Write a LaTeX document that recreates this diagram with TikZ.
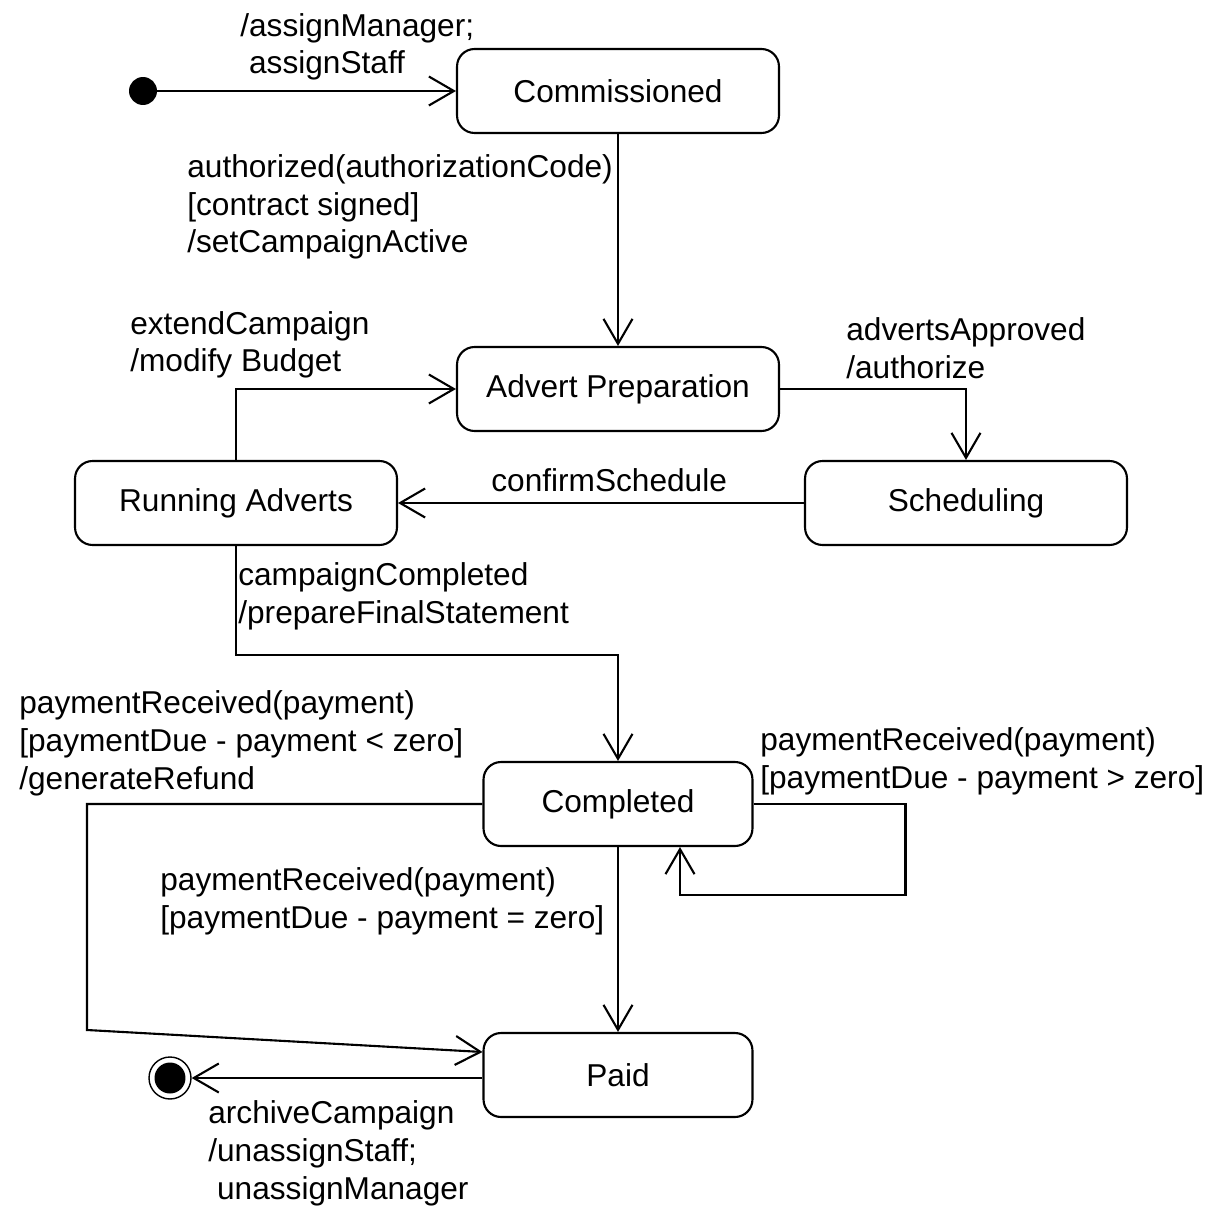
\documentclass[tikz,border=0pt]{standalone}
\usepackage{fontspec}
\setmainfont{Liberation Sans}
\usetikzlibrary{calc,arrows.meta}

\begin{document}
\begin{tikzpicture}[x=0.02cm, y=-0.02cm,
    font=\fontsize{18pt}{21.5pt}\selectfont,
    statebox/.style={draw, very thick, rounded corners=0.35cm, minimum width=6.44cm, minimum height=1.68cm, inner sep=0pt},
    smallbox/.style={statebox, minimum width=5.38cm},
    lbl/.style={anchor=base west, align=left, inner sep=0pt},
    trans/.style={very thick, -{Straight Barb[length=0.5cm, width=0.58cm, line width=1.2pt]}}]
  \useasboundingbox (0,0) rectangle (1211,1206);

  \node [statebox] (comm) at (618,91) {Commissioned};
  \node [statebox] (prep) at (618,389) {Advert Preparation};
  \node [statebox] (run) at (236,503) {Running Adverts};
  \node [statebox] (sched) at (966,503) {Scheduling};
  \node [smallbox] (compl) at (618,804) {Completed};
  \node [smallbox] (paid) at (618,1075) {Paid};

  \node [circle, fill = black, minimum size=0.56cm, inner sep=0pt] (init) at (143,91) {};
  \node [circle, draw, thick, minimum size=0.84cm, inner sep=0pt] (fin) at (170,1078) {};
  \node [circle, fill = black, minimum size=0.62cm, inner sep=0pt] (fincore) at (fin) {};

  \draw [trans] (init) -- (comm.west);
  \draw [trans] (comm.south) -- (prep.north);
  \draw [trans] (prep.east) -| (sched.north);
  \draw [trans] (sched.west) -- (run.east);
  \draw [trans] (run.north) |- (prep.west);
  \draw [trans] (run.south) -- ++(0,109) -| (compl.north);
  \draw [trans] (compl.east) -- ++(152,0) |- ($(compl.south)+(62,48)$) -- ($(compl.south)+(62,0)$);
  \draw [trans] (compl.south) -- (paid.north);
  \draw [trans] (compl.west) -- (87,804) -- (87,1030) -- ($(paid.west)+(0,-23)$);
  \draw [trans] (paid.west |- fin) -- (fin);

  \node [lbl] (l1) at (240,74) {/assignManager;\\\ assignStaff};
  \node [lbl] (l2) at (187,253) {authorized(authorizationCode)\\{}[contract signed]\\/setCampaignActive};
  \node [lbl] (l3) at (130,372) {extendCampaign\\/modify Budget};
  \node [lbl] (l4) at (846,378) {advertsApproved\\/authorize};
  \node [lbl] (l5) at (491,491) {confirmSchedule};
  \node [lbl] (l6) at (238,623) {campaignCompleted\\/prepareFinalStatement};
  \node [lbl] (l7) at (19,789) {paymentReceived(payment)\\{}[paymentDue - payment < zero]\\/generateRefund};
  \node [lbl] (l8) at (760,788) {paymentReceived(payment)\\{}[paymentDue - payment > zero]};
  \node [lbl] (l9) at (160,928) {paymentReceived(payment)\\{}[paymentDue - payment = zero]};
  \node [lbl] (l10) at (208,1199) {archiveCampaign\\/unassignStaff;\\\ unassignManager};
\end{tikzpicture}
\end{document}
